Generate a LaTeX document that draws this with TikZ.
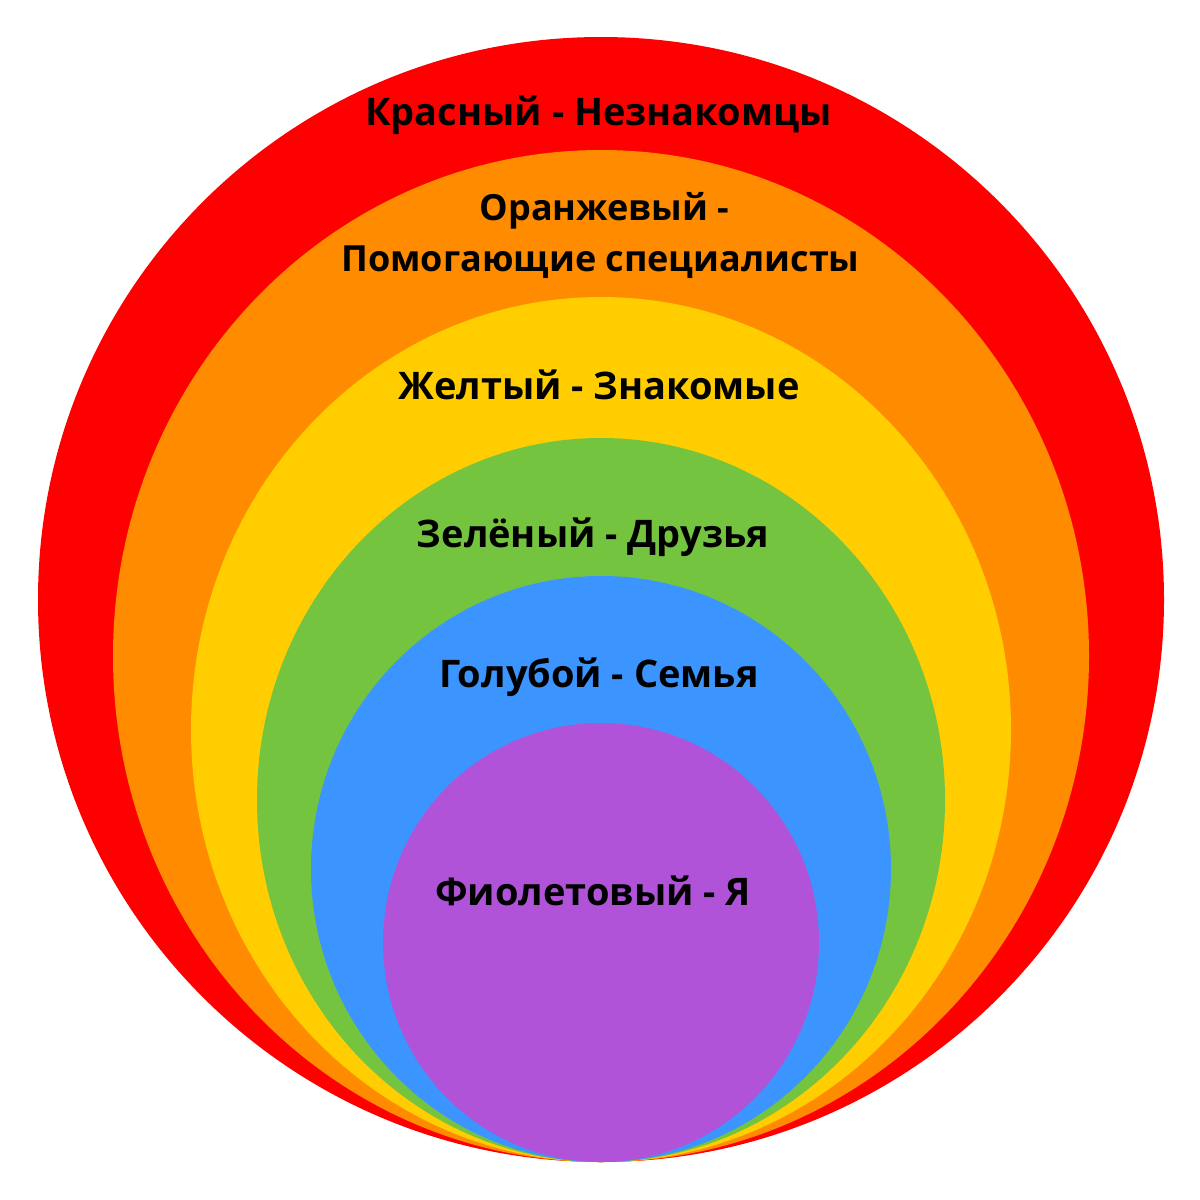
\documentclass[tikz,border=0pt]{standalone}
\usepackage{fontspec}
\setmainfont{Open Sans}
\definecolor{cred}{HTML}{FF0000}
\definecolor{corange}{HTML}{FF8C00}
\definecolor{cyellow}{HTML}{FFCD00}
\definecolor{cgreen}{HTML}{75C43F}
\definecolor{cblue}{HTML}{3C94FE}
\definecolor{cpurple}{HTML}{B053D9}
\begin{document}
\begin{tikzpicture}[x=1pt,y=-1pt,
  lbl/.style={anchor=base,inner sep=0pt,text=black,font=\fontsize{38}{44}\selectfont\bfseries},
  lblsm/.style={anchor=base,inner sep=0pt,text=black,font=\fontsize{36}{42}\selectfont\bfseries}]
\useasboundingbox (0,0) rectangle (1200,1200);
\fill[white] (0,0) rectangle (1200,1200);
\fill[cred]    (601,599.5) ellipse [x radius=563, y radius=562.5];
\fill[corange] (601,656)   ellipse [x radius=488, y radius=506];
\fill[cyellow] (601,729.5) ellipse [x radius=410, y radius=432.5];
\fill[cgreen]  (601,800)   ellipse [x radius=344, y radius=362];
\fill[cblue]   (601,869)   ellipse [x radius=290, y radius=293];
\fill[cpurple] (601,942.5) ellipse [x radius=218, y radius=219.5];
\node[lbl]   (red)     at (598.5,125) {Красный - Незнакомцы};
\node[lblsm] (orange1) at (604.5,220) {Оранжевый -};
\node[lblsm] (orange2) at (600.5,271) {Помогающие специалисты};
\node[lbl]   (yellow)  at (599,399) {Желтый - Знакомые};
\node[lbl]   (green)   at (593,547) {Зелёный - Друзья};
\node[lbl]   (blue)    at (599,687) {Голубой - Семья};
\node[lbl]   (purple)  at (593,905) {Фиолетовый - Я};
\end{tikzpicture}
\end{document}
